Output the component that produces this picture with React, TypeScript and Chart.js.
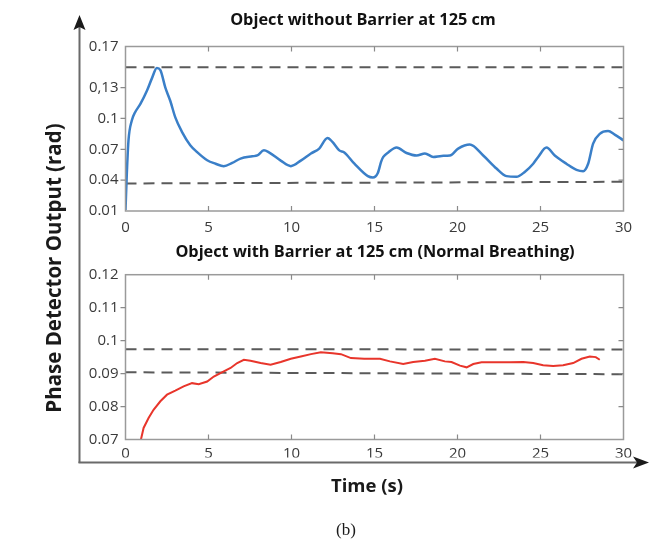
import React, { useEffect, useRef } from "react";
import { Chart, registerables } from "chart.js";
Chart.register(...registerables);

const titleTop = "Object without Barrier at 125 cm";
const titleBottom = "Object with Barrier at 125 cm (Normal Breathing)";
const yAxisLabel = "Phase Detector Output (rad)";
const xAxisLabel = "Time (s)";
const captionLabel = "(b)";

const xTicks = [0, 5, 10, 15, 20, 25, 30];
const yTicksTop = [0.01, 0.04, 0.07, 0.1, 0.13, 0.17];
const yTickLabelsTop = ["0.01", "0.04", "0.07", "0.1", "0,13", "0.17"];
const yTicksBottom = [0.07, 0.08, 0.09, 0.1, 0.11, 0.12];
const yTickLabelsBottom = ["0.07", "0.08", "0.09", "0.1", "0.11", "0.12"];

const timeTop = [
  0, 0.08, 0.18, 0.38, 0.58, 0.89, 1.29, 1.59, 1.89, 2.1, 2.4, 2.7, 3.0, 3.4, 3.9, 4.31,
  4.92, 5.42, 5.92, 6.43, 6.93, 7.64, 7.94, 8.34, 8.64, 9.35, 9.96, 10.56, 11.17, 11.67,
  12.17, 12.48, 12.88, 13.18, 13.79, 14.6, 14.9, 15.2, 15.4, 15.53, 15.83, 16.33, 16.93,
  17.53, 18.04, 18.54, 19.04, 19.54, 20.04, 20.74, 21.55, 22.35, 22.95, 23.55, 24.05,
  24.56, 24.86, 25.36, 25.86, 26.56, 27.17, 27.57, 27.87, 28.17, 28.57, 29.07, 29.47, 30.0,
];
const phaseTop = [
  0.011, 0.0465, 0.0787, 0.098, 0.106, 0.114, 0.127, 0.139, 0.149, 0.147, 0.13, 0.117,
  0.101, 0.087, 0.074, 0.0674, 0.0594, 0.056, 0.0536, 0.0568, 0.061, 0.0632, 0.064, 0.069,
  0.067, 0.059, 0.0536, 0.059, 0.066, 0.0707, 0.081, 0.077, 0.069, 0.067, 0.056, 0.0439,
  0.0426, 0.047, 0.058, 0.0626, 0.067, 0.0717, 0.0664, 0.064, 0.066, 0.0626, 0.0636, 0.064,
  0.0707, 0.0746, 0.064, 0.0513, 0.0439, 0.0432, 0.048, 0.056, 0.0626, 0.0717, 0.064, 0.056,
  0.05, 0.0487, 0.056, 0.0756, 0.085, 0.0877, 0.0843, 0.0787,
];

const timeBottom = [
  0.93, 1.09, 1.39, 1.69, 2.1, 2.5, 3.0, 3.5, 4.01, 4.41, 4.92, 5.32, 5.92, 6.33, 6.73,
  7.13, 7.53, 8.14, 8.74, 9.35, 9.96, 10.56, 11.17, 11.77, 12.48, 12.98, 13.58, 14.38,
  15.33, 15.93, 16.73, 17.33, 18.04, 18.64, 19.24, 19.64, 20.15, 20.55, 20.95, 21.45,
  22.35, 23.15, 23.96, 24.56, 25.16, 25.76, 26.36, 26.97, 27.47, 27.97, 28.33, 28.57,
];
const phaseBottom = [
  0.07, 0.0735, 0.0765, 0.079, 0.0816, 0.0836, 0.0848, 0.0861, 0.0871, 0.0868, 0.0876,
  0.0891, 0.0907, 0.0917, 0.0932, 0.0942, 0.0939, 0.0932, 0.0927, 0.0935, 0.0945, 0.0952,
  0.0959, 0.0965, 0.0962, 0.0959, 0.0947, 0.0945, 0.0945, 0.0937, 0.0929, 0.0935, 0.0939,
  0.0945, 0.0937, 0.0935, 0.0924, 0.0919, 0.0929, 0.0934, 0.0934, 0.0934, 0.0935, 0.0932,
  0.0925, 0.0923, 0.0925, 0.0932, 0.0945, 0.0952, 0.095, 0.0942,
];

const dashX = [0, 30];
const upperTop = [0.1497, 0.1497];
const lowerTop = [0.0368, 0.0384];
const upperBottom = [0.0974, 0.0973];
const lowerBottom = [0.0904, 0.0898];

const toPoints = (xs: number[], ys: number[]) => xs.map((x, i) => ({ x, y: ys[i] }));

const TICK_FONT = "'Open Sans', Lato, sans-serif";
const BOLD_FONT = "'Open Sans', Lato, sans-serif";

const boxPlugin = {
  id: "boxPlugin",
  afterDraw(chart: any) {
    const { ctx, chartArea, scales } = chart;
    const { left, right, top, bottom } = chartArea;
    ctx.save();
    ctx.strokeStyle = "#9a9a9a";
    ctx.lineWidth = 1.5;
    ctx.strokeRect(left, top, right - left, bottom - top);
    ctx.strokeStyle = "#8a8a8a";
    ctx.lineWidth = 1.2;
    ctx.beginPath();
    const xs = scales.x;
    xs.ticks.forEach((t: any) => {
      const px = xs.getPixelForValue(t.value);
      if (px <= left + 1 || px >= right - 1) return;
      ctx.moveTo(px, bottom);
      ctx.lineTo(px, bottom - 5);
      ctx.moveTo(px, top);
      ctx.lineTo(px, top + 5);
    });
    const ys = scales.y;
    ys.ticks.forEach((t: any) => {
      const py = ys.getPixelForValue(t.value);
      if (py <= top + 1 || py >= bottom - 1) return;
      ctx.moveTo(left - 5, py);
      ctx.lineTo(left, py);
      ctx.moveTo(right, py);
      ctx.lineTo(right - 5, py);
    });
    ctx.stroke();
    const t = chart.options.plugins.panelTitle;
    if (t) {
      ctx.fillStyle = "#111";
      ctx.textAlign = "center";
      ctx.textBaseline = "middle";
      ctx.font = `bold 16.3px ${BOLD_FONT}`;
      ctx.fillText(t.text, t.x, t.y);
    }
    ctx.restore();
  },
};

const framePlugin = {
  id: "framePlugin",
  afterDraw(chart: any) {
    const { ctx } = chart;
    ctx.save();
    ctx.strokeStyle = "#6a6a6a";
    ctx.lineWidth = 2;
    ctx.beginPath();
    ctx.moveTo(79.5, 463);
    ctx.lineTo(79.5, 27);
    ctx.stroke();
    ctx.fillStyle = "#1a1a1a";
    ctx.beginPath();
    ctx.moveTo(79.5, 15);
    ctx.lineTo(73.5, 30);
    ctx.lineTo(79.5, 27);
    ctx.lineTo(85.5, 30);
    ctx.closePath();
    ctx.fill();
    ctx.beginPath();
    ctx.moveTo(78.5, 462.5);
    ctx.lineTo(637, 462.5);
    ctx.stroke();
    ctx.beginPath();
    ctx.moveTo(649, 462.5);
    ctx.lineTo(633, 456.5);
    ctx.lineTo(637, 462.5);
    ctx.lineTo(633, 468.5);
    ctx.closePath();
    ctx.fill();
    ctx.fillStyle = "#1a1a1a";
    ctx.textAlign = "center";
    ctx.textBaseline = "middle";
    ctx.font = `bold 20.5px ${BOLD_FONT}`;
    ctx.save();
    ctx.translate(55, 268);
    ctx.rotate(-Math.PI / 2);
    ctx.fillText(yAxisLabel, 0, 0);
    ctx.restore();
    ctx.font = `bold 18.5px ${BOLD_FONT}`;
    ctx.fillText(xAxisLabel, 367, 487);
    ctx.font = "17px 'Liberation Serif', serif";
    ctx.fillText(captionLabel, 346, 531);
    ctx.restore();
  },
};

function makeConfig(opts: {
  title: string;
  titleX: number;
  titleY: number;
  xs: number[];
  ys: number[];
  color: string;
  width: number;
  upper: number[];
  lower: number[];
  yMin: number;
  yMax: number;
  yTicks: number[];
  yLabels: string[];
  padding: { top: number; bottom: number; left: number; right: number };
  xHeight: number;
  xPad: number;
  tension: number;
  plugins: any[];
}) {
  const dashStyle = {
    borderColor: "#5a5a5a",
    borderWidth: 2,
    borderDash: [11, 7],
    pointRadius: 0,
    fill: false,
    tension: 0,
  };
  return {
    type: "line",
    data: {
      datasets: [
        {
          data: toPoints(opts.xs, opts.ys),
          borderColor: opts.color,
          borderWidth: opts.width,
          pointRadius: 0,
          fill: false,
          cubicInterpolationMode: opts.tension > 0 ? "monotone" : "default",
          tension: opts.tension,
        },
        { data: toPoints(dashX, opts.upper), ...dashStyle },
        { data: toPoints(dashX, opts.lower), ...dashStyle },
      ],
    },
    options: {
      responsive: false,
      animation: false,
      events: [],
      layout: { padding: opts.padding },
      plugins: {
        legend: { display: false },
        tooltip: { enabled: false },
        title: { display: false },
        panelTitle: { text: opts.title, x: opts.titleX, y: opts.titleY },
      },
      scales: {
        x: {
          type: "linear",
          min: 0,
          max: 30,
          afterBuildTicks: (s: any) => {
            s.ticks = xTicks.map((v) => ({ value: v }));
          },
          afterFit: (s: any) => {
            s.height = opts.xHeight;
          },
          grid: { display: false, drawTicks: false },
          border: { display: false },
          ticks: {
            autoSkip: false,
            maxRotation: 0,
            padding: opts.xPad,
            color: "#3a3a3a",
            font: { family: TICK_FONT, size: 15 },
          },
        },
        y: {
          type: "linear",
          min: opts.yMin,
          max: opts.yMax,
          afterBuildTicks: (s: any) => {
            s.ticks = opts.yTicks.map((v) => ({ value: v }));
          },
          afterFit: (s: any) => {
            s.width = 45;
          },
          grid: { display: false, drawTicks: false },
          border: { display: false },
          ticks: {
            autoSkip: false,
            padding: 7,
            color: "#3a3a3a",
            font: { family: TICK_FONT, size: 15 },
            callback: (v: number) => {
              const i = opts.yTicks.findIndex((t) => Math.abs(t - v) < 1e-9);
              return i >= 0 ? opts.yLabels[i] : "";
            },
          },
        },
      },
    },
    plugins: opts.plugins,
  } as any;
}

export default function App() {
  const topRef = useRef<HTMLCanvasElement | null>(null);
  const bottomRef = useRef<HTMLCanvasElement | null>(null);

  useEffect(() => {
    if (!topRef.current || !bottomRef.current) return;
    const bottom = new Chart(
      bottomRef.current,
      makeConfig({
        title: titleBottom,
        titleX: 375,
        titleY: 252,
        xs: timeBottom,
        ys: phaseBottom,
        color: "#e8352b",
        width: 2,
        upper: upperBottom,
        lower: lowerBottom,
        yMin: 0.07,
        yMax: 0.12,
        yTicks: yTicksBottom,
        yLabels: yTickLabelsBottom,
        padding: { top: 274.7, bottom: 84.5, left: 80.5, right: 40.5 },
        xHeight: 18,
        xPad: 5,
        tension: 0,
        plugins: [boxPlugin, framePlugin],
      })
    );
    const top = new Chart(
      topRef.current,
      makeConfig({
        title: titleTop,
        titleX: 363,
        titleY: 20.5,
        xs: timeTop,
        ys: phaseTop,
        color: "#3a7fc8",
        width: 2.5,
        upper: upperTop,
        lower: lowerTop,
        yMin: 0.01,
        yMax: 0.17,
        yTicks: yTicksTop,
        yLabels: yTickLabelsTop,
        padding: { top: 46.5, bottom: 0, left: 80.5, right: 40.5 },
        xHeight: 29,
        xPad: 8,
        tension: 0.4,
        plugins: [boxPlugin],
      })
    );
    return () => {
      top.destroy();
      bottom.destroy();
    };
  }, []);

  return (
    <div style={{ position: "absolute", left: 0, top: 0, width: 664, height: 542, background: "#fff" }}>
      <canvas
        ref={bottomRef}
        width={664}
        height={542}
        style={{ position: "absolute", left: 0, top: 0, width: 664, height: 542 }}
      />
      <canvas
        ref={topRef}
        width={664}
        height={240}
        style={{ position: "absolute", left: 0, top: 0, width: 664, height: 240 }}
      />
    </div>
  );
}
